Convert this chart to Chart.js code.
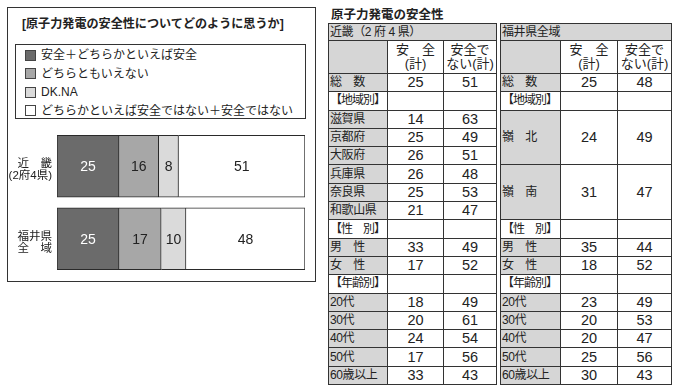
<!DOCTYPE html>
<html>
<head>
<meta charset="utf-8">
<script src="https://cdn.jsdelivr.net/npm/chart.js@4"></script>
<style>
  body { margin: 0; width: 676px; height: 392px; background: #fff; position: relative; overflow: hidden;
         font-family: "Liberation Sans", "Noto Sans CJK JP", sans-serif; color: #222; }
  #panel { position: absolute; left: 7px; top: 7px; width: 309px; height: 275px; box-sizing: border-box; border: 1.5px solid #333; }
  #title { position: absolute; left: 22px; top: 14px; font-size: 12.1px; font-weight: bold; white-space: nowrap; }
  #legend { position: absolute; left: 15px; top: 44px; width: 291px; height: 75px; box-sizing: border-box; border: 1px solid #333; padding-top: 1px; }
  .item { height: 18.5px; line-height: 18.5px; font-size: 12px; white-space: nowrap; display: flex; align-items: center; }
  .sw { width: 9px; height: 9px; border: 1px solid #444; margin-left: 9px; margin-right: 5px; }
  #chart { position: absolute; left: 0; top: 113px; }
  #ttl2 { position: absolute; left: 331px; top: 4px; font-size: 12.5px; font-weight: bold; white-space: nowrap; }
  table { position: absolute; top: 23px; border-collapse: collapse; table-layout: fixed; border: 1.5px solid #222; }
  td { border: 1px solid #333; padding: 0; font-size: 12px; line-height: 15px; white-space: nowrap; overflow: hidden; }
  td.g { background: #d6d6d6; }
  td.n { text-align: center; font-size: 14.5px; }
  td.l { padding-left: 1px; letter-spacing: -0.4px; }
  td.s { letter-spacing: -1px; }
  td.h { text-align: center; line-height: 14px; font-size: 13px; }
</style>
</head>
<body>
<div id="panel"></div>
<div id="title">[原子力発電の安全性についてどのように思うか]</div>
<div id="legend"></div>
<canvas id="chart" width="320" height="179"></canvas>
<div id="ttl2">原子力発電の安全性</div>
<table id="tk" style="left:328px;width:168px"></table>
<table id="tf" style="left:500px;width:171px"></table>
<script>
// left chart
const categories = [['近　畿', '(2府4県)'], ['福井県', '全　域']];
const seriesNames = ['安全＋どちらかといえば安全', 'どちらともいえない', 'DK.NA', 'どちらかといえば安全ではない＋安全ではない'];
const safe = [25, 25];
const neutral = [16, 17];
const dkna = [8, 10];
const unsafe = [51, 48];
const colors = ['#6b6b6b', '#a7a7a7', '#dadada', '#ffffff'];
const labelColors = ['#fff', '#222', '#222', '#222'];

// right tables
const kinkiTitle = '近畿（2 府 4 県）';
const fukuiTitle = '福井県全域';
const colHeads = [['安　全', '(計)'], ['安全で', 'ない(計)']];
const kinkiRows = ['総　数', '【地域別】', '滋賀県', '京都府', '大阪府', '兵庫県', '奈良県', '和歌山県',
  '【性　別】', '男　性', '女　性', '【年齢別】', '20代', '30代', '40代', '50代', '60歳以上'];
const kinkiSafe = [25, null, 14, 25, 26, 26, 25, 21, null, 33, 17, null, 18, 20, 24, 17, 33];
const kinkiUnsafe = [51, null, 63, 49, 51, 48, 53, 47, null, 49, 52, null, 49, 61, 54, 56, 43];
const fukuiRows = ['総　数', '【地域別】', '嶺　北', '嶺　南', '【性　別】', '男　性', '女　性', '【年齢別】',
  '20代', '30代', '40代', '50代', '60歳以上'];
const fukuiSafe = [25, null, 24, 31, null, 35, 18, null, 23, 20, 20, 25, 30];
const fukuiUnsafe = [48, null, 49, 47, null, 44, 52, null, 49, 53, 47, 56, 43];
const fukuiSpans = [1, 1, 3, 3, 1, 1, 1, 1, 1, 1, 1, 1, 1];

// legend box
const legend = document.getElementById('legend');
seriesNames.forEach((name, i) => {
  const d = document.createElement('div');
  d.className = 'item';
  d.innerHTML = '<span class="sw" style="background:' + colors[i] + '"></span>' + name;
  legend.appendChild(d);
});

// numbers inside the bars
const barLabels = {
  id: 'barLabels',
  afterDatasetsDraw(chart) {
    const ctx = chart.ctx;
    ctx.save();
    ctx.font = '14px "Liberation Sans", sans-serif';
    ctx.textAlign = 'center';
    ctx.textBaseline = 'middle';
    chart.data.datasets.forEach((ds, i) => {
      chart.getDatasetMeta(i).data.forEach((bar, j) => {
        const p = bar.getCenterPoint();
        ctx.fillStyle = labelColors[i];
        ctx.fillText(String(ds.data[j]), p.x, p.y + 1);
      });
    });
    ctx.restore();
  }
};

const series = [safe, neutral, dkna, unsafe];
new Chart(document.getElementById('chart'), {
  type: 'bar',
  data: {
    labels: categories,
    datasets: series.map((vals, i) => ({
      label: seriesNames[i],
      data: vals,
      backgroundColor: colors[i],
      borderColor: '#2a2a2a',
      borderWidth: { top: 1, bottom: 1, right: 1, left: i === 0 ? 1 : 0 },
      borderSkipped: false,
      barThickness: 62
    }))
  },
  options: {
    indexAxis: 'y',
    responsive: false,
    animation: false,
    // the y labels add about 12px of padding above and below the bars
    layout: { padding: { left: 0, right: 15, top: 7, bottom: 3 } },
    plugins: { legend: { display: false }, tooltip: { enabled: false } },
    scales: {
      x: { stacked: true, min: 0, max: 100, display: false },
      y: {
        stacked: true,
        grid: { display: false, drawTicks: false },
        border: { display: false },
        ticks: { padding: 5, labelOffset: 4, color: '#222', font: { size: 11.5, lineHeight: 1.05, family: '"Liberation Sans", "Noto Sans CJK JP", sans-serif' } },
        afterFit(s) { s.width = 57; }
      }
    }
  },
  plugins: [barLabels]
});

// tables
function buildTable(el, title, widths, rows, a, b, spans) {
  let html = '<colgroup>' + widths.map(w => '<col style="width:' + w + 'px">').join('') + '</colgroup>';
  html += '<tr style="height:17px"><td class="g l" colspan="3">' + title + '</td></tr>';
  html += '<tr style="height:33px"><td class="g"></td>' +
    colHeads.map(h => '<td class="h">' + h.join('<br>') + '</td>').join('') + '</tr>';
  const rowH = 18.3;
  rows.forEach((r, i) => {
    const span = spans ? spans[i] : 1;
    const sec = a[i] === null;
    html += '<tr style="height:' + rowH + 'px">';
    html += '<td class="l' + (sec ? ' s' : ' g') + '" rowspan="' + span + '">' + r + '</td>';
    html += '<td class="n" rowspan="' + span + '">' + (sec ? '' : a[i]) + '</td>';
    html += '<td class="n" rowspan="' + span + '">' + (sec ? '' : b[i]) + '</td>';
    html += '</tr>';
    for (let k = 1; k < span; k++) html += '<tr style="height:' + rowH + 'px"></tr>';
  });
  el.innerHTML = html;
}
buildTable(document.getElementById('tk'), kinkiTitle, [59, 56, 53], kinkiRows, kinkiSafe, kinkiUnsafe, null);
buildTable(document.getElementById('tf'), fukuiTitle, [60, 57, 54], fukuiRows, fukuiSafe, fukuiUnsafe, fukuiSpans);
</script>
</body>
</html>
